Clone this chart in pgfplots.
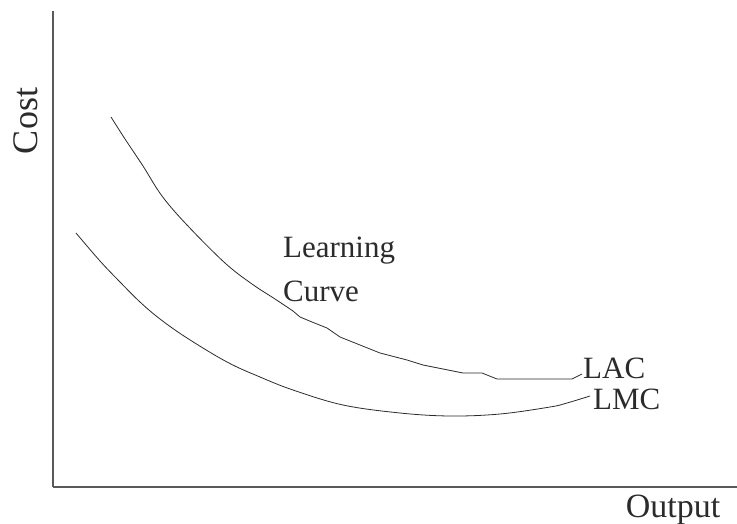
\documentclass[border=0pt]{standalone}
\usepackage{fontspec}
\setmainfont{Liberation Serif}
\usepackage{pgfplots}
\pgfplotsset{compat=1.18}
\definecolor{ink}{HTML}{2B2B2B}
\definecolor{axisgray}{HTML}{5A5A5A}
\begin{document}
\begin{tikzpicture}
\path[use as bounding box] (0,0) rectangle (737bp,524bp);
\begin{axis}[
  at={(53bp,37bp)}, anchor=south west,
  scale only axis, width=684bp, height=476bp,
  xmin=53, xmax=737, ymin=37, ymax=513,
  axis lines=left,
  axis line style={-, axisgray, line width=1.2bp},
  xtick=\empty, ytick=\empty,
  clip=false,
]
% LAC (pixel x, 524 - pixel y)
\addplot[ink, line width=0.8bp, smooth, tension=0.6] coordinates {
(111,407) (125,385) (143,358) (162,328) (187,299) (225,261) (252,240)
(275,225) (293,213)
};
\addplot[ink, line width=0.8bp] coordinates {
(293,213) (300,207) (312,202) (327,196) (340,187) (360,179) (380,171)
(407,164) (423,159) (443,155) (463,151) (482,151) (497,145) (572,145) (582,150)
};
% LMC
\addplot[ink, line width=0.8bp, smooth, tension=0.6] coordinates {
(76,291) (100,263) (120,242) (140,222) (160,205) (187,186) (227,162)
(260,147) (293,134) (343,119) (400,111) (450,108) (500,110) (550,117) (567,121) (590,128)
};
\end{axis}
\node[ink, font=\fontsize{36bp}{40bp}\selectfont, rotate=90, anchor=base] at (37bp,403bp) {Cost};
\node[ink, font=\fontsize{34bp}{40bp}\selectfont, anchor=base] at (673bp,7bp) {Output};
\node[ink, font=\fontsize{31bp}{36bp}\selectfont, anchor=base west, inner sep=0pt] at (283bp,266bp) {Learning};
\node[ink, font=\fontsize{31bp}{36bp}\selectfont, anchor=base west, inner sep=0pt] at (283bp,222bp) {Curve};
\node[ink, font=\fontsize{31bp}{36bp}\selectfont, anchor=base west, inner sep=0pt] at (583bp,145bp) {LAC};
\node[ink, font=\fontsize{31bp}{36bp}\selectfont, anchor=base west, inner sep=0pt] at (593bp,114bp) {LMC};
\end{tikzpicture}
\end{document}
